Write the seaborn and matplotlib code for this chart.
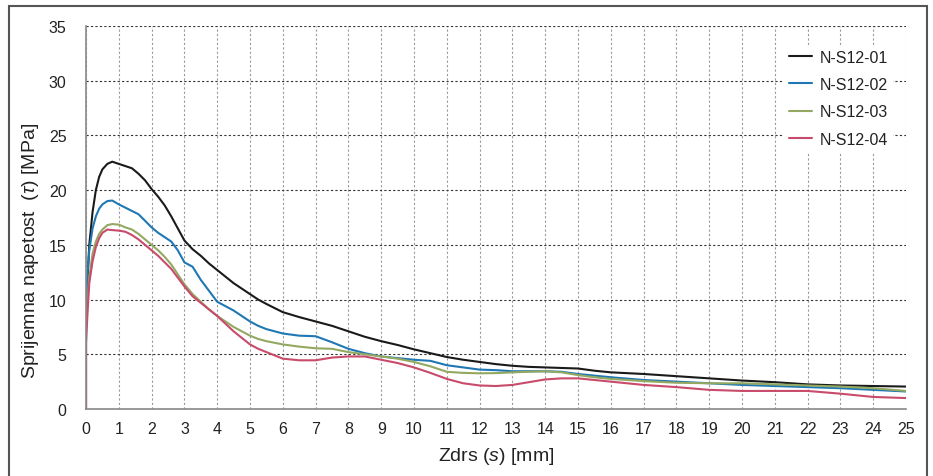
import pandas as pd
import matplotlib
matplotlib.use("Agg")
import matplotlib.pyplot as plt
import matplotlib.patches as patches
import seaborn as sns

# podatki (odčitano z grafa)
zdrs = [0, 0, 0.05, 0.1, 0.2, 0.3, 0.4, 0.5, 0.65, 0.8, 1.0, 1.2, 1.4, 1.6, 1.8,
        2.0, 2.2, 2.4, 2.6, 2.8, 3.0, 3.25, 3.5, 3.75, 4.0, 4.5, 5.0, 5.25, 5.5,
        6.0, 6.5, 7.0, 7.5, 8.0, 8.5, 9, 9.5, 10, 10.5, 11, 11.5, 12, 12.5, 13,
        13.5, 14, 14.5, 15, 15.5, 16, 17, 18, 19, 20, 21, 22, 23, 24, 25]

s12_01 = [0, 8, 12, 15, 18, 20, 21.2, 21.9, 22.4, 22.6, 22.4, 22.2, 22.0, 21.5, 20.9,
          20.1, 19.4, 18.6, 17.6, 16.5, 15.4, 14.6, 14.0, 13.3, 12.7, 11.5, 10.5, 10.0, 9.6,
          8.85, 8.4, 8.0, 7.6, 7.1, 6.6, 6.2, 5.85, 5.45, 5.1, 4.75, 4.5, 4.3, 4.1, 3.95,
          3.85, 3.8, 3.75, 3.7, 3.5, 3.35, 3.2, 3.0, 2.8, 2.6, 2.45, 2.25, 2.15, 2.1, 2.05]

s12_02 = [0, 9, 12.5, 14.5, 16.5, 17.6, 18.3, 18.7, 19.0, 19.05, 18.7, 18.4, 18.1, 17.8, 17.2,
          16.6, 16.1, 15.7, 15.3, 14.5, 13.4, 13.0, 11.8, 10.8, 9.8, 9.0, 8.0, 7.6, 7.3,
          6.9, 6.7, 6.65, 6.1, 5.5, 5.1, 4.8, 4.65, 4.5, 4.4, 4.0, 3.8, 3.6, 3.55, 3.45,
          3.45, 3.45, 3.4, 3.2, 3.05, 2.9, 2.65, 2.5, 2.35, 2.2, 2.1, 2.0, 1.9, 1.75, 1.6]

s12_03 = [0, 7, 10, 12, 14.2, 15.3, 16.0, 16.4, 16.8, 16.9, 16.85, 16.6, 16.4, 16.0, 15.5,
          15.0, 14.5, 13.9, 13.2, 12.3, 11.4, 10.5, 9.8, 9.1, 8.5, 7.5, 6.7, 6.4, 6.2,
          5.9, 5.7, 5.55, 5.5, 5.2, 5.0, 4.8, 4.6, 4.3, 3.9, 3.4, 3.3, 3.26, 3.28, 3.35,
          3.4, 3.45, 3.35, 3.1, 2.9, 2.75, 2.55, 2.4, 2.35, 2.35, 2.25, 2.15, 2.05, 1.9, 1.65]

s12_04 = [0, 6, 9, 11.5, 13.5, 14.8, 15.6, 16.1, 16.4, 16.35, 16.3, 16.2, 15.9, 15.5, 15.0,
          14.5, 14.0, 13.4, 12.8, 12.0, 11.2, 10.3, 9.7, 9.1, 8.5, 7.1, 5.9, 5.5, 5.2,
          4.6, 4.45, 4.45, 4.7, 4.8, 4.8, 4.5, 4.2, 3.8, 3.3, 2.75, 2.35, 2.15, 2.1, 2.2,
          2.45, 2.7, 2.8, 2.8, 2.65, 2.5, 2.2, 2.0, 1.75, 1.65, 1.65, 1.65, 1.4, 1.1, 1.0]

oznake = ["N-S12-01", "N-S12-02", "N-S12-03", "N-S12-04"]
barve = {"N-S12-01": "#1a1a1a", "N-S12-02": "#1f78b4",
         "N-S12-03": "#93a860", "N-S12-04": "#c94b6b"}

dfs = []
for ime, vrednosti in zip(oznake, [s12_01, s12_02, s12_03, s12_04]):
    dfs.append(pd.DataFrame({"zdrs": zdrs, "tau": vrednosti, "vzorec": ime}))
df = pd.concat(dfs, ignore_index=True)

sns.set_style("white")
plt.rcParams["font.family"] = ["Liberation Sans", "DejaVu Sans"]
plt.rcParams["mathtext.fontset"] = "custom"
plt.rcParams["mathtext.rm"] = "Liberation Sans"
plt.rcParams["mathtext.it"] = "Liberation Sans:italic"

fig = plt.figure(figsize=(9.33, 4.77), dpi=100)
ax = fig.add_axes([86 / 933, 1 - 410 / 477, 820 / 933, 383 / 477])

sns.lineplot(data=df, x="zdrs", y="tau", hue="vzorec", palette=barve,
             hue_order=oznake, estimator=None, sort=False, linewidth=1.5, ax=ax)

ax.set_xlim(0, 25)
ax.set_ylim(0, 35)
ax.set_xticks(range(0, 26))
ax.set_yticks(range(0, 36, 5))

ax.grid(axis="x", color="#9a9a9a", linestyle=(0, (2, 2)), linewidth=0.8)
ax.grid(axis="y", color="#333333", linestyle=(0, (2, 2)), linewidth=0.8)
ax.set_axisbelow(True)

for s in ["top", "right"]:
    ax.spines[s].set_visible(False)
for s in ["left", "bottom"]:
    ax.spines[s].set_color("#888888")
    ax.spines[s].set_linewidth(1.2)

ax.tick_params(axis="both", direction="out", length=5, width=1, color="#888888",
               labelsize=11.5, labelcolor="#222222")
ax.tick_params(axis="y", pad=9)
ax.tick_params(axis="x", pad=4)

ax.set_xlabel(r"Zdrs ($s$) [mm]", fontsize=14, color="#222222", labelpad=6)
ax.set_ylabel(r"Sprijemna napetost  ($\tau$) [MPa]", fontsize=14, color="#222222")
ax.yaxis.set_label_coords(-0.055, 0.415)

leg = ax.legend(loc="upper left", bbox_to_anchor=(0.842, 0.972), fontsize=11.5,
                frameon=True, facecolor="white", edgecolor="none", framealpha=1,
                handlelength=1.4, handletextpad=0.5, labelspacing=0.78,
                borderpad=0.3, fancybox=False)
for t in leg.get_texts():
    t.set_color("#222222")

# okvir slike
okvir = patches.Rectangle((9 / 933, -0.05), (927 - 9) / 933, 1.05 - 7 / 477,
                          transform=fig.transFigure, fill=False,
                          edgecolor="#555555", linewidth=1.5, clip_on=False)
fig.patches.append(okvir)

plt.savefig("out.png", dpi=100)
